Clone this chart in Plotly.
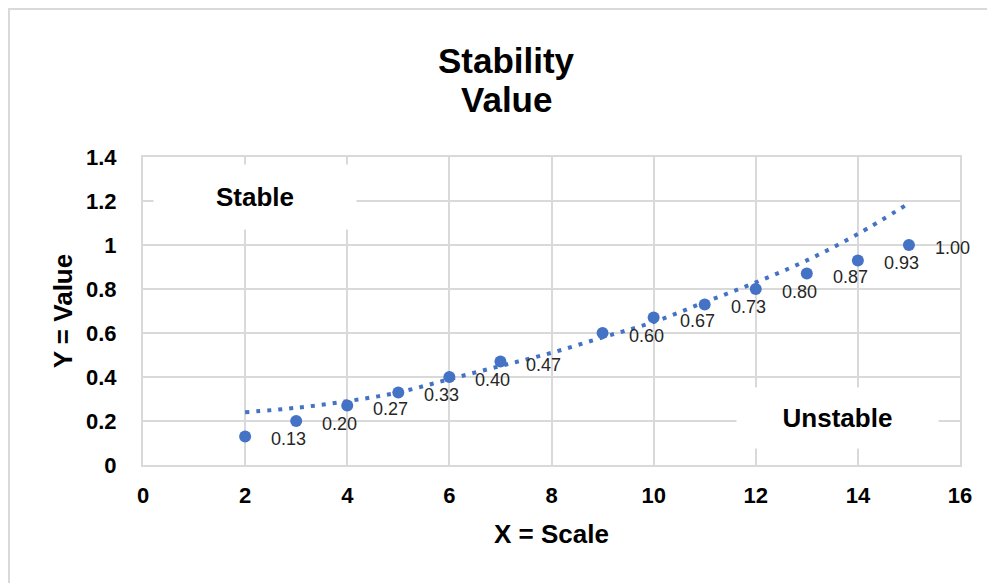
import plotly.graph_objects as go

# Data
x_points = [2, 3, 4, 5, 6, 7, 9, 10, 11, 12, 13, 14, 15]
y_points = [0.13, 0.20, 0.27, 0.33, 0.40, 0.47, 0.60, 0.67, 0.73, 0.80, 0.87, 0.93, 1.00]
point_labels = ["0.13", "0.20", "0.27", "0.33", "0.40", "0.47", "0.60", "0.67", "0.73", "0.80", "0.87", "0.93", "1.00"]

x_trend = [2, 3, 4, 5, 6, 7, 8, 9, 10, 11, 12, 13, 14, 15]
y_trend = [0.24, 0.26, 0.29, 0.33, 0.39, 0.45, 0.51, 0.58, 0.65, 0.74, 0.83, 0.93, 1.05, 1.19]

x_ticks = [0, 2, 4, 6, 8, 10, 12, 14, 16]
y_ticks = [0, 0.2, 0.4, 0.6, 0.8, 1.0, 1.2, 1.4]
y_tick_text = ["0", "0.2", "0.4", "0.6", "0.8", "1", "1.2", "1.4"]

BLUE = "#4472C4"
GRID = "#d9d9d9"
FONT = "Liberation Sans, Arial, sans-serif"

# page offset (body margin) compensation
W, H = 987, 575
L, T, R, B = 135, 149, 35, 118
PW, PH = W - L - R, H - T - B

fig = go.Figure()

fig.add_trace(go.Scatter(
    x=x_trend, y=y_trend, mode="lines", line_shape="spline",
    line=dict(color=BLUE, width=4, dash="4px,7px"),
    hoverinfo="skip", showlegend=False,
))

fig.add_trace(go.Scatter(
    x=x_points, y=y_points, mode="markers",
    marker=dict(color=BLUE, size=12),
    showlegend=False,
))

for xv, yv, lab in zip(x_points, y_points, point_labels):
    fig.add_annotation(
        x=xv, y=yv, xref="x", yref="y", text=lab, showarrow=False,
        xanchor="left", yanchor="middle", xshift=24, yshift=-3,
        font=dict(family=FONT, size=18, color="#262626"),
    )

fig.update_layout(
    width=W, height=H,
    margin=dict(l=L, r=R, t=T, b=B),
    paper_bgcolor="white", plot_bgcolor="white",
    font=dict(family=FONT, color="#000000"),
    title=dict(text="<b>Stability</b>", x=498/W, xanchor="center",
               y=1 - 53/H, yanchor="middle",
               font=dict(family=FONT, size=35, color="#000000")),
    showlegend=False,
)

fig.update_xaxes(
    range=[0, 16], tickvals=x_ticks, ticktext=[str(v) for v in x_ticks],
    showgrid=True, gridcolor=GRID, gridwidth=2,
    showline=True, linecolor=GRID, linewidth=2, mirror=True,
    zeroline=False, ticks="", ticklabelstandoff=10,
    tickfont=dict(family=FONT, size=22, color="#000000", weight="bold"),
    title=dict(text="<b>X = Scale</b>", standoff=17,
               font=dict(family=FONT, size=26, color="#000000")),
)
fig.update_yaxes(
    range=[0, 1.4], tickvals=y_ticks, ticktext=y_tick_text,
    showgrid=True, gridcolor=GRID, gridwidth=2,
    showline=True, linecolor=GRID, linewidth=2, mirror=True,
    zeroline=False, ticks="", ticklabelstandoff=20,
    tickfont=dict(family=FONT, size=22, color="#000000", weight="bold"),
    title=dict(text="<b>Y = Value</b>", standoff=6,
               font=dict(family=FONT, size=26, color="#000000")),
)

fig.add_annotation(
    text="<b>Value</b>", xref="paper", yref="paper",
    x=(498 - L) / PW, y=(PH + T - 92) / PH, xanchor="center", yanchor="middle",
    showarrow=False, font=dict(family=FONT, size=35, color="#000000"),
)
fig.add_annotation(
    text="<b>Stable</b>", x=2.2, y=1.22, xref="x", yref="y",
    showarrow=False, bgcolor="white", width=202, height=64, borderpad=0,
    font=dict(family=FONT, size=26, color="#000000"),
)
fig.add_annotation(
    text="<b>Unstable</b>", x=13.6, y=0.215, xref="x", yref="y",
    showarrow=False, bgcolor="white", width=201, height=60, borderpad=0,
    font=dict(family=FONT, size=26, color="#000000"),
)

# outer chart border
fig.add_shape(
    type="rect", xref="paper", yref="paper", layer="below",
    x0=(1 - L) / PW, x1=(W + 20 - L) / PW,
    y0=(PH + T - H - 30) / PH, y1=(PH + T - 1) / PH,
    line=dict(color=GRID, width=2), fillcolor="rgba(0,0,0,0)",
)

fig.write_html("out.html")
